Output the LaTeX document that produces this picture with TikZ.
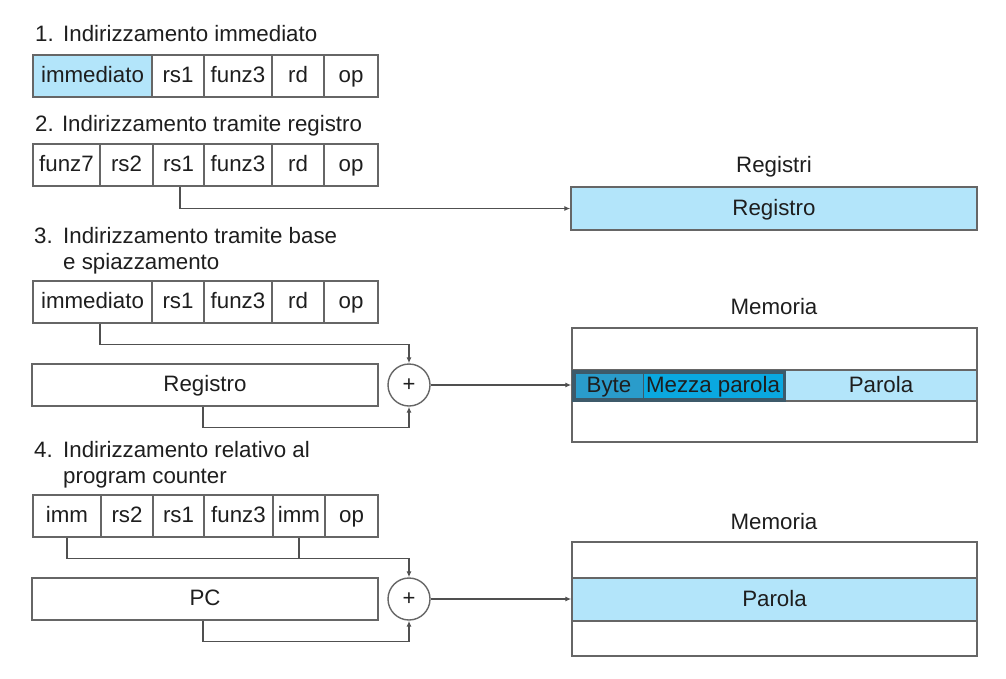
\documentclass[tikz,border=0pt]{standalone}
\usepackage{fontspec}
\setmainfont{Liberation Sans}
\usetikzlibrary{arrows.meta,calc}
\definecolor{boxgray}{HTML}{666666}
\definecolor{linegray}{HTML}{505050}
\definecolor{txt}{HTML}{1E1E1E}
\definecolor{lightblue}{HTML}{B3E5FA}
\definecolor{bytecol}{HTML}{2A9CCB}
\definecolor{mezzacol}{HTML}{0AA8E0}
\definecolor{darkedge}{HTML}{3D5A6A}
\begin{document}
\begin{tikzpicture}[x=1pt,y=-1pt,
  every node/.style={font=\fontsize{22.3}{26}\selectfont, text=txt},
  cell/.style={draw=boxgray, line width=1.4pt, minimum height=42pt, inner sep=0pt, text height=17pt, text depth=4pt},
  ttl/.style={anchor=base west, inner sep=0pt},
  conn/.style={draw=linegray, line width=1.4pt},
  arr/.style={conn, -{Latex[length=6pt,width=5pt]}},
  sum/.style={circle, draw=boxgray, line width=1.4pt, minimum size=42pt, inner sep=0pt, font=\fontsize{22}{22}\selectfont},
  lbl/.style={inner sep=0pt}
]
\useasboundingbox (0,0) rectangle (1006,678);
\fill[white] (0,0) rectangle (1006,678);

% titles
\node[ttl] (t1) at (35,41) {\makebox[28pt][l]{1.}Indirizzamento immediato};
\node[ttl] (t2) at (35,131) {2. Indirizzamento tramite registro};
\node[ttl] (t3a) at (34,243) {\makebox[29pt][l]{3.}Indirizzamento tramite base};
\node[ttl] (t3b) at (63,269) {e spiazzamento};
\node[ttl] (t4a) at (34,457) {\makebox[29pt][l]{4.}Indirizzamento relativo al};
\node[ttl] (t4b) at (63,483) {program counter};

% row 1
\node[cell, fill=lightblue, minimum width=119pt] (r1imm) at (92.5,76) {immediato};
\node[cell, minimum width=52pt] (r1rs1) at (178,76) {rs1};
\node[cell, minimum width=68pt] (r1f3) at (238,76) {funz3};
\node[cell, minimum width=52pt] (r1rd) at (298,76) {rd};
\node[cell, minimum width=54pt] (r1op) at (351,76) {op};

% row 2
\node[cell, minimum width=67pt] (r2f7) at (66.5,165) {funz7};
\node[cell, minimum width=53pt] (r2rs2) at (126.5,165) {rs2};
\node[cell, minimum width=51pt] (r2rs1) at (178.5,165) {rs1};
\node[cell, minimum width=68pt] (r2f3) at (238,165) {funz3};
\node[cell, minimum width=52pt] (r2rd) at (298,165) {rd};
\node[cell, minimum width=54pt] (r2op) at (351,165) {op};

\node[lbl] (regT) at (774,167) {Registri};
\node[cell, fill=lightblue, minimum width=406pt, minimum height=43pt] (regs) at (774,208.5) {Registro};
\draw[arr] ($(r2rs1.south)+(1.5,0)$) |- (regs.west);

% row 3
\node[cell, minimum width=119pt] (r3imm) at (92.5,302) {immediato};
\node[cell, minimum width=52pt] (r3rs1) at (178,302) {rs1};
\node[cell, minimum width=68pt] (r3f3) at (238,302) {funz3};
\node[cell, minimum width=52pt] (r3rd) at (298,302) {rd};
\node[cell, minimum width=54pt] (r3op) at (351,302) {op};

\node[cell, minimum width=346pt] (r3reg) at (205,385) {Registro};
\node[sum] (s1) at (409,385) {+};

\node[lbl] (memT1) at (774,307) {Memoria};
\node[draw=boxgray, line width=1.4pt, minimum width=405pt, minimum height=114pt, inner sep=0pt] (m1) at (774.5,385) {};
\node[cell, fill=lightblue, minimum width=405pt, minimum height=31pt] (m1row) at (774.5,385.5) {};
\node[draw=darkedge, fill=darkedge, line width=1pt, minimum width=213pt, minimum height=31pt, inner sep=0pt] (m1grp) at (678.5,385.5) {};
\node[draw=darkedge, fill=bytecol, line width=0.8pt, minimum width=68pt, minimum height=25pt, inner sep=0pt, text height=17pt, text depth=4pt] (byte) at (609,385.5) {Byte};
\node[draw=darkedge, fill=mezzacol, line width=0.8pt, minimum width=140pt, minimum height=25pt, inner sep=0pt, text height=17pt, text depth=4pt] (mezza) at (713,385.5) {Mezza parola};
\node[lbl, text height=17pt, text depth=4pt] (par1) at (881,385.5) {Parola};

\draw[arr] ($(r3imm.south)+(7.5,0)$) -- ++(0,21) -| (s1.north);
\draw[arr] ($(r3reg.south)+(-2,0)$) -- ++(0,21) -| (s1.south);
\draw[arr] (s1.east) -- (m1.west);

% row 4
\node[cell, minimum width=68pt] (r4immA) at (67,516) {imm};
\node[cell, minimum width=52pt] (r4rs2) at (127,516) {rs2};
\node[cell, minimum width=51pt] (r4rs1) at (178.5,516) {rs1};
\node[cell, minimum width=69pt] (r4f3) at (238.5,516) {funz3};
\node[cell, minimum width=52pt] (r4immB) at (299,516) {imm};
\node[cell, minimum width=53pt] (r4op) at (351.5,516) {op};

\node[cell, minimum width=346pt] (pc) at (205,599) {PC};
\node[sum] (s2) at (409,599) {+};

\node[lbl] (memT2) at (774,522) {Memoria};
\node[draw=boxgray, line width=1.4pt, minimum width=405pt, minimum height=114pt, inner sep=0pt] (m2) at (774.5,599) {};
\node[cell, fill=lightblue, minimum width=405pt, minimum height=43pt] (m2row) at (774.5,599.5) {Parola};

\draw[conn] (r4immB.south) -- ++(0,21);
\draw[arr] (r4immA.south) -- ++(0,21) -| (s2.north);
\draw[arr] ($(pc.south)+(-2,0)$) -- ++(0,21) -| (s2.south);
\draw[arr] (s2.east) -- (m2.west);
\end{tikzpicture}
\end{document}
